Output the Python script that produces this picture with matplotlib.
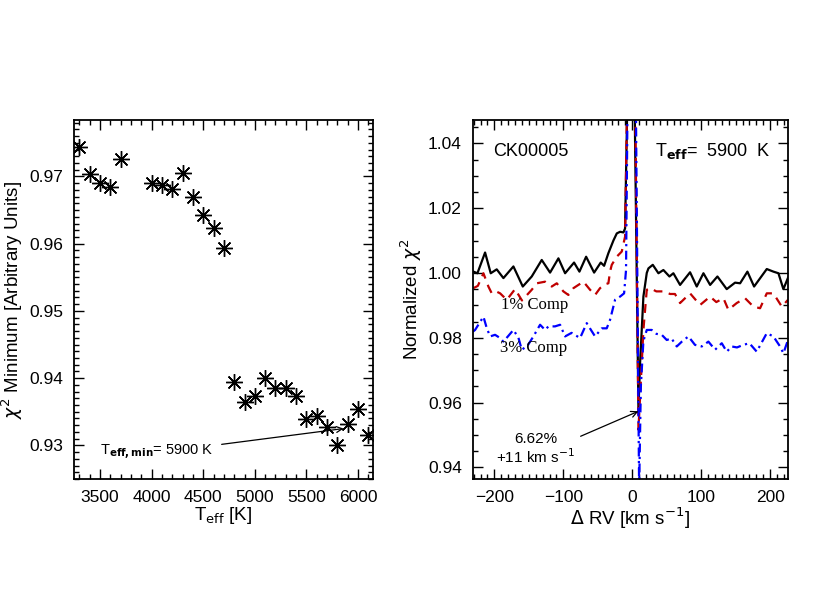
import numpy as np
import matplotlib
matplotlib.use("Agg")
import matplotlib.pyplot as plt
from matplotlib.ticker import MultipleLocator

plt.rcParams['font.family'] = ['Liberation Sans', 'DejaVu Sans']
plt.rcParams['mathtext.fontset'] = 'dejavusans'

# left panel: chi^2 minimum vs Teff
teff = [3300, 3400, 3500, 3600, 3700, 4000, 4100, 4200, 4300, 4400, 4500,
        4600, 4700, 4800, 4900, 5000, 5100, 5200, 5300, 5400, 5500, 5600,
        5700, 5800, 5900, 6000, 6100]
chi2_min = [0.9744, 0.9704, 0.9690, 0.9685, 0.9726, 0.9690, 0.9688, 0.9681,
            0.9705, 0.9670, 0.9643, 0.9623, 0.9593, 0.9395, 0.9365, 0.9374,
            0.9400, 0.9385, 0.9385, 0.9374, 0.9339, 0.9344, 0.9328, 0.9301,
            0.9332, 0.9354, 0.9316]

# right panel: normalized chi^2 vs delta RV
rv_0 = [-230.4, -224.6, -213.5, -205.3, -196.6, -186.9, -172.4, -158.8, -145.8,
        -131.3, -119.2, -107.1, -97.4, -84.4, -76.6, -66.9, -55.3, -45.7, -40.8,
        -34.6, -27.3, -22.4, -17.6, -12.8, -10.4, -6.5, -1.0, 3.0, 9.0, 11.4,
        16.2, 21.1, 23.5, 29.8, 38.0, 45.2, 54.0, 59.7, 69.4, 83.9, 93.6, 103.3,
        113.0, 123.6, 137.1, 149.2, 156.5, 167.1, 176.8, 195.2, 204.8, 212.1,
        219.3, 226.0]
chi_0 = [1.0004, 0.9999, 1.0063, 0.9999, 1.0011, 0.9984, 1.0020, 0.9958, 0.9989,
         1.0040, 1.0001, 1.0045, 0.9999, 1.0032, 1.0004, 1.0050, 1.0001, 1.0032,
         1.0022, 1.0061, 1.0100, 1.0122, 1.0127, 1.0125, 1.0137, 1.0600, 1.0800,
         1.0600, 0.9578, 0.9722, 0.9927, 1.0000, 1.0014, 1.0025, 0.9999, 1.0009,
         0.9989, 0.9999, 0.9963, 1.0002, 0.9958, 0.9999, 0.9963, 0.9989, 0.9950,
         0.9970, 0.9968, 1.0004, 0.9958, 1.0012, 1.0004, 0.9999, 0.9950, 0.9985]

rv_1 = [-230.4, -224.0, -215.9, -208.7, -203.8, -197.5, -191.7, -182.0, -170.0,
        -160.0, -145.8, -138.5, -126.4, -116.8, -109.5, -99.9, -92.6, -85.3,
        -78.1, -70.8, -61.2, -53.9, -46.7, -39.4, -34.6, -32.2, -29.7, -22.5,
        -15.2, -10.4, -7.0, -1.0, 4.0, 9.0, 16.2, 21.1, 25.9, 35.0, 45.2, 55.0,
        62.0, 69.4, 83.9, 98.4, 113.0, 122.0, 132.3, 139.5, 151.6, 163.7, 175.8,
        185.5, 195.2, 204.8, 217.0, 226.0]
chi_1 = [0.9953, 0.9960, 0.9999, 0.9958, 0.9937, 0.9943, 0.9937, 0.9917, 0.9950,
         0.9915, 0.9948, 0.9968, 0.9973, 0.9958, 0.9968, 0.9943, 0.9932, 0.9953,
         0.9963, 0.9973, 0.9948, 0.9932, 0.9953, 0.9965, 0.9968, 1.0004, 1.0025,
         1.0050, 1.0066, 1.0112, 1.0600, 1.0800, 1.0600, 0.9516, 0.9824, 0.9948,
         0.9953, 0.9943, 0.9943, 0.9935, 0.9935, 0.9907, 0.9937, 0.9901, 0.9927,
         0.9910, 0.9922, 0.9886, 0.9907, 0.9922, 0.9896, 0.9891, 0.9937, 0.9937,
         0.9896, 0.9917]

rv_3 = [-231.0, -228.0, -215.9, -211.1, -206.2, -199.0, -191.7, -186.9, -180.0,
        -172.4, -165.1, -160.3, -152.0, -143.4, -133.7, -126.4, -121.6, -112.0,
        -104.7, -97.4, -88.0, -75.7, -66.0, -58.7, -53.9, -44.2, -37.0, -32.2,
        -24.9, -17.6, -11.8, -9.0, -6.5, -0.5, 5.0, 10.0, 12.5, 16.2, 21.1, 28.3,
        35.0, 42.8, 50.1, 57.0, 64.6, 72.0, 81.5, 91.0, 100.9, 110.5, 120.2,
        129.9, 137.1, 144.4, 152.0, 161.3, 170.0, 180.6, 195.2, 204.8, 214.5,
        219.3, 226.0]
chi_3 = [0.9819, 0.9824, 0.9865, 0.9830, 0.9804, 0.9809, 0.9799, 0.9788, 0.9805,
         0.9824, 0.9800, 0.9763, 0.9775, 0.9804, 0.9840, 0.9824, 0.9835, 0.9835,
         0.9840, 0.9804, 0.9815, 0.9799, 0.9845, 0.9820, 0.9804, 0.9829, 0.9829,
         0.9855, 0.9917, 0.9927, 0.9937, 1.0009, 1.0600, 1.0800, 1.0600, 0.9330,
         0.9650, 0.9790, 0.9824, 0.9824, 0.9812, 0.9809, 0.9793, 0.9798, 0.9773,
         0.9788, 0.9804, 0.9778, 0.9773, 0.9788, 0.9763, 0.9783, 0.9757, 0.9773,
         0.9770, 0.9778, 0.9783, 0.9757, 0.9814, 0.9804, 0.9773, 0.9752, 0.9793]


def style_axes(ax):
    for sp in ax.spines.values():
        sp.set_linewidth(1.3)
    ax.tick_params(which='both', direction='in', top=True, right=True,
                   labelsize=12.5, pad=8, width=1.0)
    ax.tick_params(which='major', length=7)
    ax.tick_params(which='minor', length=3.5)


fig = plt.figure(figsize=(8.3, 6.0), dpi=100)

# -- left panel --------------------------------------------------------------
ax1 = fig.add_axes([0.0892, 0.2017, 0.3602, 0.5983])
ax1.plot(teff, chi2_min, ls='none', marker=(8, 2, 0), ms=12, mew=1.0,
         color='k')
ax1.plot(teff, chi2_min, ls='none', marker='o', ms=2.5, color='k')
ax1.set_xlim(3248, 6145)
ax1.set_ylim(0.925, 0.9784)
ax1.xaxis.set_major_locator(MultipleLocator(500))
ax1.xaxis.set_minor_locator(MultipleLocator(100))
ax1.yaxis.set_major_locator(MultipleLocator(0.01))
ax1.yaxis.set_minor_locator(MultipleLocator(0.001))
ax1.yaxis.set_major_formatter(plt.FuncFormatter(lambda v, p: f"{v:.2f}"))
style_axes(ax1)
ax1.set_xlabel(r'T$_{\rm eff}$ [K]', fontsize=13.5, labelpad=0)
ax1.set_ylabel(r'$\chi^2$ Minimum [Arbitrary Units]', fontsize=13.5,
               labelpad=3)
ax1.annotate(r'T$_{\mathbf{eff,min}}$= 5900 K', xy=(5860, 0.9325),
             xytext=(3500, 0.9289), fontsize=10.5, va='center', ha='left',
             arrowprops=dict(arrowstyle='->', lw=0.9, color='k',
                             shrinkA=4, shrinkB=0))

# -- right panel -------------------------------------------------------------
ax2 = fig.add_axes([0.5699, 0.2017, 0.3795, 0.5983])
ax2.plot(rv_0, chi_0, color='k', lw=1.6)
ax2.plot(rv_1, chi_1, color='#c00000', lw=1.6, ls=(0, (4, 3)))
ax2.plot(rv_3, chi_3, color='#0000ff', lw=1.6, ls=(0, (4, 2, 1, 2)))
ax2.set_xlim(-231, 226)
ax2.set_ylim(0.9364, 1.0472)
ax2.xaxis.set_major_locator(MultipleLocator(100))
ax2.xaxis.set_minor_locator(MultipleLocator(10))
ax2.yaxis.set_major_locator(MultipleLocator(0.02))
ax2.yaxis.set_minor_locator(MultipleLocator(0.005))
ax2.yaxis.set_major_formatter(plt.FuncFormatter(lambda v, p: f"{v:.2f}"))
ax2.xaxis.set_major_formatter(
    plt.FuncFormatter(lambda v, p: f"{v:.0f}".replace('-', '\u2212')))
style_axes(ax2)
ax2.set_xlabel(r'$\Delta$ RV [km s$^{-1}$]', fontsize=13.5, labelpad=0)
ax2.set_ylabel(r'Normalized $\chi^2$', fontsize=13.5, labelpad=3)

ax2.text(-202, 1.0376, 'CK00005', fontsize=13, ha='left', va='center')
ax2.text(200, 1.0376, r'T$_{\mathbf{eff}}$=  5900  K', fontsize=13,
         ha='right', va='center')
ax2.text(-190, 0.9901, '1% Comp', fontsize=12, ha='left', va='center',
         family=['Liberation Serif', 'DejaVu Serif'])
ax2.text(-192, 0.9768, '3% Comp', fontsize=12, ha='left', va='center',
         family=['Liberation Serif', 'DejaVu Serif'])
ax2.annotate('6.62%\n+11 km s$^{-1}$', xy=(9, 0.9573), xytext=(-140, 0.9457),
             fontsize=11, ha='center', va='center', linespacing=1.1,
             arrowprops=dict(arrowstyle='->', lw=0.9, color='k',
                             shrinkA=2, shrinkB=0,
                             relpos=(0.95, 0.75)))

fig.savefig('out.png', dpi=100)
